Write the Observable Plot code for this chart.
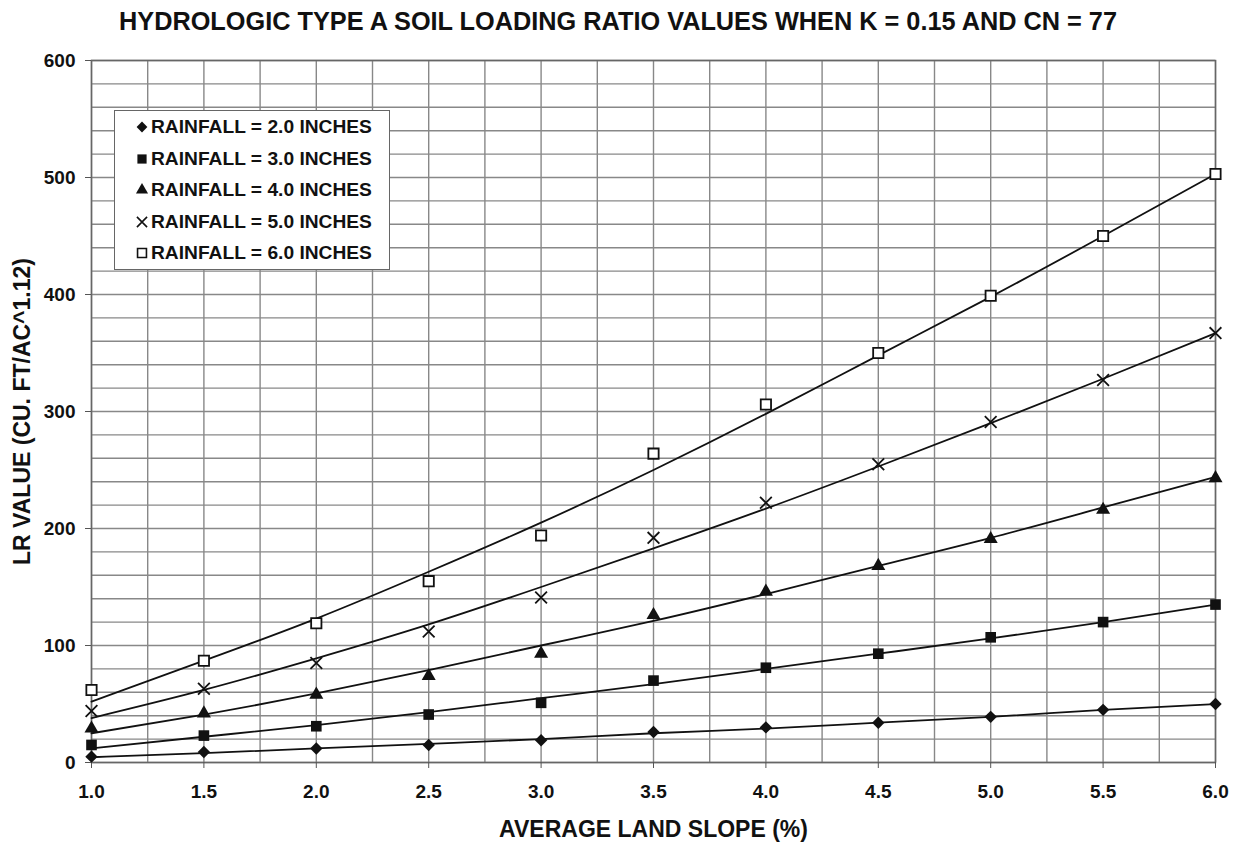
<!DOCTYPE html>
<html>
<head>
<meta charset="utf-8">
<script src="https://cdn.jsdelivr.net/npm/d3@7"></script>
<script src="https://cdn.jsdelivr.net/npm/@observablehq/plot@0.6"></script>
<style>
  html, body { margin: 0; padding: 0; background: #fff; }
  body { width: 1236px; height: 844px; position: relative; font-family: "Liberation Sans", Arial, sans-serif; color: #111; }
  #title { height: 40px; line-height: 43px; text-align: center; font-weight: bold; font-size: 25.3px; white-space: nowrap; }
  #legend { position: absolute; left: 114px; top: 110px; width: 276px; height: 160px; border: 1px solid #666; background: #fff; box-sizing: border-box; padding-top: 0.5px; }
  .item { display: flex; align-items: center; height: 31.5px; font-weight: bold; font-size: 19.2px; padding-left: 20px; }
  .item svg { margin-right: 2px; }
</style>
</head>
<body>
<div id="title">HYDROLOGIC TYPE A SOIL LOADING RATIO VALUES WHEN K = 0.15 AND CN = 77</div>
<div id="chart"></div>
<div id="legend"></div>
<script>
// ---- data ----
const slopes = [1.0, 1.5, 2.0, 2.5, 3.0, 3.5, 4.0, 4.5, 5.0, 5.5, 6.0];
const seriesNames = ["RAINFALL = 2.0 INCHES", "RAINFALL = 3.0 INCHES", "RAINFALL = 4.0 INCHES", "RAINFALL = 5.0 INCHES", "RAINFALL = 6.0 INCHES"];
// observed points
const rain2 = [5, 9, 12, 15, 19, 26, 30, 34, 39, 45, 50];
const rain3 = [15, 23, 31, 41, 51, 70, 81, 93, 107, 120, 135];
const rain4 = [29, 42, 58, 74, 93, 126, 146, 168, 191, 216, 243];
const rain5 = [44, 63, 85, 112, 141, 192, 222, 255, 291, 327, 367];
const rain6 = [62, 87, 119, 155, 194, 264, 306, 350, 399, 450, 503];
// trend lines (at each slope)
const fit2 = [4.5, 8, 12, 16, 20, 25, 29, 34, 39, 45, 50];
const fit3 = [12, 22, 32, 43, 55, 67, 80, 93, 106, 120, 135];
const fit4 = [25, 41, 59, 79, 100, 121, 144, 168, 192, 218, 244];
const fit5 = [38, 62, 89, 118, 150, 183, 217, 253, 290, 328, 367];
const fit6 = [52, 87, 123, 163, 205, 250, 298, 348, 398, 450, 503];
const xTicks = [1.0, 1.5, 2.0, 2.5, 3.0, 3.5, 4.0, 4.5, 5.0, 5.5, 6.0];
const xGrid = [1.0, 1.25, 1.5, 1.75, 2.0, 2.25, 2.5, 2.75, 3.0, 3.25, 3.5, 3.75, 4.0, 4.25, 4.5, 4.75, 5.0, 5.25, 5.5, 5.75, 6.0];
const yTicks = [0, 100, 200, 300, 400, 500, 600];
const yGrid = [0, 20, 40, 60, 80, 100, 120, 140, 160, 180, 200, 220, 240, 260, 280, 300, 320, 340, 360, 380, 400, 420, 440, 460, 480, 500, 520, 540, 560, 580, 600];
const xLabel = "AVERAGE LAND SLOPE (%)";
const yLabel = "LR VALUE (CU. FT/AC^1.12)";

const pointSets = [rain2, rain3, rain4, rain5, rain6];
const fitSets = [fit2, fit3, fit4, fit5, fit6];
const symbols = ["diamond2", "square", "triangle", "times", "square"];
const fills = ["#111", "#111", "#111", "none", "#fff"];
const radii = [5.6, 6.0, 5.2, 5.4, 5.8];

const points = pointSets.flatMap((arr, i) => arr.map((v, j) => ({series: i, x: slopes[j], y: v})));
const fits = fitSets.flatMap((arr, i) => arr.map((v, j) => ({series: i, x: slopes[j], y: v})));

const marks = [
  Plot.gridX(xGrid, {stroke: "#888", strokeOpacity: 1, strokeWidth: 1.4}),
  Plot.gridY(yGrid, {stroke: "#888", strokeOpacity: 1, strokeWidth: 1.4}),
  Plot.frame({stroke: "#666", strokeWidth: 1.5}),
  Plot.axisX(xTicks, {tickFormat: d => d.toFixed(1), fontSize: 19, fontWeight: "bold", tickSize: 6, tickPadding: 16, label: null, stroke: "#555"}),
  Plot.axisY(yTicks, {fontSize: 19, fontWeight: "bold", tickSize: 6, tickPadding: 10, label: null, stroke: "#555"}),
  Plot.line(fits, {x: "x", y: "y", z: "series", curve: "natural", stroke: "#111", strokeWidth: 1.8})
];
symbols.forEach((s, i) => {
  marks.push(Plot.dot(points.filter(d => d.series === i), {
    x: "x", y: "y", symbol: () => s, r: radii[i],
    fill: fills[i], stroke: (i >= 3) ? "#111" : "none", strokeWidth: 1.8
  }));
});
marks.push(Plot.text([xLabel], {frameAnchor: "bottom", lineAnchor: "middle", textAnchor: "middle", dy: 67, fontSize: 23, fontWeight: "bold", fill: "#111"}));
marks.push(Plot.text([yLabel], {frameAnchor: "left", lineAnchor: "middle", textAnchor: "middle", dx: -69, rotate: -90, fontSize: 23, fontWeight: "bold", fill: "#111"}));

const chart = Plot.plot({
  width: 1236,
  height: 804,
  marginTop: 20,
  marginBottom: 82,
  marginLeft: 91,
  marginRight: 21,
  style: {fontFamily: "'Liberation Sans', Arial, sans-serif", fontSize: "19px", fontWeight: "bold", color: "#111", background: "#fff"},
  x: {domain: [1, 6]},
  y: {domain: [0, 600]},
  symbol: {type: "identity"},
  marks
});
document.getElementById("chart").append(chart);

// legend
const legend = document.getElementById("legend");
const legendSymbols = [d3.symbolDiamond2, d3.symbolSquare, d3.symbolTriangle, d3.symbolTimes, d3.symbolSquare];
seriesNames.forEach((name, i) => {
  const item = document.createElement("div");
  item.className = "item";
  const svgNS = "http://www.w3.org/2000/svg";
  const svg = document.createElementNS(svgNS, "svg");
  svg.setAttribute("width", 14); svg.setAttribute("height", 14);
  const path = document.createElementNS(svgNS, "path");
  path.setAttribute("d", d3.symbol(legendSymbols[i], Math.PI * radii[i] * radii[i] * 0.75)());
  path.setAttribute("transform", "translate(7,7)");
  path.setAttribute("fill", fills[i]);
  path.setAttribute("stroke", i >= 3 ? "#111" : "none");
  path.setAttribute("stroke-width", 1.6);
  svg.append(path);
  item.append(svg);
  item.append(document.createTextNode(name));
  legend.append(item);
});
</script>
</body>
</html>
